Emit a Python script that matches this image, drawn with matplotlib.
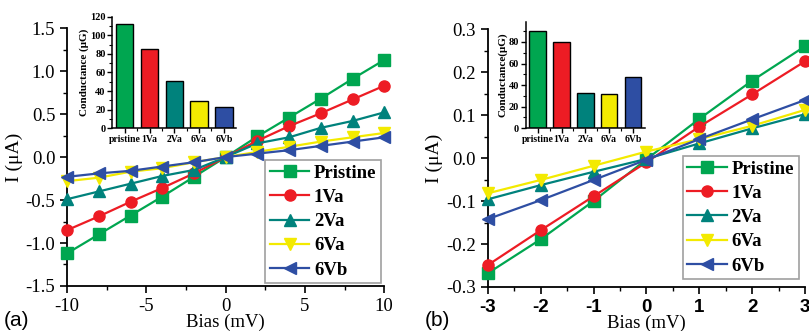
import numpy as np
import matplotlib
matplotlib.use("Agg")
import matplotlib.pyplot as plt
from matplotlib.ticker import MultipleLocator

# ---- data ----
names = ['Pristine', '1Va', '2Va', '6Va', '6Vb']
bar_labels = ['pristine', '1Va', '2Va', '6Va', '6Vb']
colors = ['#00a650', '#ed1c24', '#00827c', '#f3ea00', '#2e4ea3']
markers = ['s', 'o', '^', 'v', '<']

bias_a = [-10, -8, -6, -4, -2, 0, 2, 4, 6, 8, 10]
cur_a = {
    'Pristine': [-1.12, -0.90, -0.68, -0.46, -0.23, 0.0, 0.24, 0.46, 0.68, 0.91, 1.13],
    '1Va': [-0.85, -0.69, -0.52, -0.36, -0.19, 0.0, 0.19, 0.36, 0.51, 0.67, 0.83],
    '2Va': [-0.49, -0.40, -0.31, -0.22, -0.15, 0.0, 0.16, 0.23, 0.34, 0.42, 0.52],
    '6Va': [-0.28, -0.24, -0.17, -0.13, -0.06, 0.0, 0.06, 0.12, 0.18, 0.23, 0.28],
    '6Vb': [-0.23, -0.19, -0.16, -0.11, -0.06, 0.0, 0.04, 0.08, 0.13, 0.18, 0.23],
}
cond_a = [112, 85, 51, 29, 23]

bias_b = [-3, -2, -1, 0, 1, 2, 3]
cur_b = {
    'Pristine': [-0.268, -0.189, -0.100, -0.003, 0.091, 0.180, 0.260],
    '1Va': [-0.249, -0.168, -0.089, -0.010, 0.073, 0.148, 0.225],
    '2Va': [-0.096, -0.063, -0.032, -0.002, 0.034, 0.069, 0.102],
    '6Va': [-0.082, -0.051, -0.018, 0.015, 0.044, 0.075, 0.112],
    '6Vb': [-0.142, -0.098, -0.051, -0.004, 0.044, 0.090, 0.135],
}
cond_b = [90, 80, 33, 32, 47]

serif = 'Liberation Serif'
sans = 'Liberation Sans'

fig = plt.figure(figsize=(8.09, 3.31), dpi=100)


def main_panel(rect, x, data, xlim, ylim, xmaj, ymaj, yfmt, xfont, xweight, tag, leg_anchor):
    ax = fig.add_axes(rect)
    for n, c, m in zip(names, colors, markers):
        ax.plot(x, data[n], color=c, marker=m, markersize=8, linewidth=1.6,
                label=n, clip_on=False, zorder=3)
    ax.set_xlim(*xlim)
    ax.set_ylim(*ylim)
    ax.spines['top'].set_visible(False)
    ax.spines['right'].set_visible(False)
    for s in ['left', 'bottom']:
        ax.spines[s].set_linewidth(1.3)
    ax.xaxis.set_minor_locator(MultipleLocator(xmaj / 2))
    ax.yaxis.set_minor_locator(MultipleLocator(ymaj / 2))
    ax.tick_params(which='major', length=5, width=1.2, direction='out')
    ax.tick_params(which='minor', length=3, width=1.0, direction='out')
    yt = np.arange(ylim[0], ylim[1] + ymaj / 2, ymaj)
    ax.set_yticks(yt)
    ax.set_yticklabels([yfmt.format(v) for v in yt], fontfamily=serif, fontsize=13.5)
    xt = np.arange(xlim[0], xlim[1] + xmaj / 2, xmaj)
    ax.set_xticks(xt)
    ax.set_xticklabels([str(int(v)) for v in xt], fontfamily=xfont, fontsize=13.5,
                       fontweight=xweight)
    ax.set_xlabel('Bias (mV)', fontfamily=serif, fontsize=13.5, labelpad=-1)
    ax.set_ylabel('I (\u03bcA)', fontfamily=serif, fontsize=14, labelpad=2)
    leg = ax.legend(loc='lower right', bbox_to_anchor=leg_anchor, frameon=True,
                    fancybox=False, edgecolor='#888888', handlelength=2.1,
                    borderpad=0.25, labelspacing=0.38, handletextpad=0.25,
                    borderaxespad=0.0,
                    prop={'family': serif, 'weight': 'bold', 'size': 13.5})
    leg.get_frame().set_linewidth(1.2)
    fig.text(rect[0] - 0.078, 0.015, tag, fontfamily=sans, fontsize=15)
    return ax


def inset(rect, vals, ylim, yticks, ylabel):
    ax = fig.add_axes(rect)
    pos = np.arange(len(vals))
    ax.bar(pos, vals, width=0.7, color=colors, edgecolor='black', linewidth=1.0)
    ax.set_xlim(-0.5, len(vals) - 0.5)
    ax.set_ylim(*ylim)
    ax.spines['top'].set_visible(False)
    ax.spines['right'].set_visible(False)
    ax.patch.set_alpha(0)
    ax.set_yticks(yticks)
    ax.set_yticklabels([str(v) for v in yticks], fontfamily=serif, fontweight='bold', fontsize=7.5)
    ax.yaxis.set_minor_locator(MultipleLocator(10))
    ax.set_xticks(pos)
    ax.set_xticklabels(bar_labels, fontfamily=serif, fontweight='bold', fontsize=7)
    ax.set_xticks(pos[:-1] + 0.5, minor=True)
    ax.tick_params(which='major', length=3.5, width=1.0, pad=1.5)
    ax.tick_params(which='minor', length=2, width=0.8)
    ax.set_ylabel(ylabel, fontfamily=serif, fontweight='bold', fontsize=8, labelpad=1)
    for s in ['left', 'bottom']:
        ax.spines[s].set_linewidth(1.1)
    return ax


main_panel([0.083, 0.136, 0.392, 0.779], bias_a, cur_a, (-10, 10), (-1.5, 1.5),
           5, 0.5, '{:.1f}', serif, 'normal', '(a)', (0.99, 0.01))
main_panel([0.603, 0.133, 0.392, 0.779], bias_b, cur_b, (-3, 3), (-0.3, 0.3),
           1, 0.1, '{:.1f}', sans, 'bold', '(b)', (0.98, 0.03))

inset([0.139, 0.613, 0.153, 0.336], cond_a, (0, 120), [0, 20, 40, 60, 80, 100, 120],
      'Conductance (\u03bcG)')
inset([0.650, 0.613, 0.147, 0.322], cond_b, (0, 99), [0, 20, 40, 60, 80],
      'Conductance(\u03bcG)')

fig.savefig('out.png', dpi=100)
